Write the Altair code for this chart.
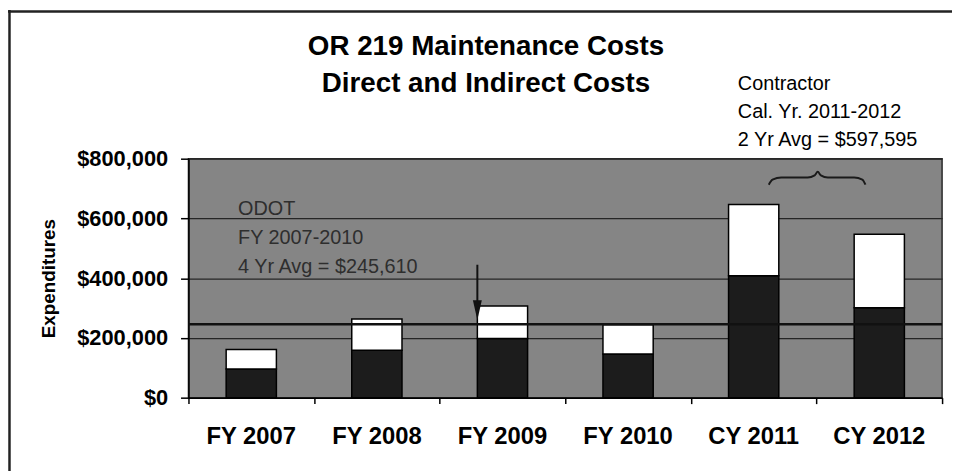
import altair as alt
import pandas as pd

# ---- data ----
categories = ["FY 2007", "FY 2008", "FY 2009", "FY 2010", "CY 2011", "CY 2012"]
direct_costs = [96000, 159000, 198000, 146000, 408000, 301000]
indirect_costs = [65000, 104000, 109000, 98000, 239000, 246000]
odot_avg = 245610
contractor_avg = 597595
y_ticks = [0, 200000, 400000, 600000, 800000]

title_text = "OR 219 Maintenance Costs\nDirect and Indirect Costs"
odot_note = "ODOT\nFY 2007-2010\n4 Yr Avg = $245,610"
contractor_note = "Contractor\nCal. Yr. 2011-2012\n2 Yr Avg = $597,595"

# brace over the contractor years (band units on a 0..6 axis, dollars)
brace_x = [4.62, 4.65, 4.72, 4.93, 4.985, 5.01, 5.035, 5.09, 5.30, 5.365, 5.39]
brace_y = [713000, 730000, 737000, 737000, 744000, 756000, 744000, 737000, 737000, 730000, 713000]
boundaries = [0, 1, 2, 3, 4, 5, 6]

FONT = "Liberation Sans"

rows = []
for c, d, i in zip(categories, direct_costs, indirect_costs):
    rows.append({"cat": c, "part": "Direct", "ord": 0, "value": d})
    rows.append({"cat": c, "part": "Indirect", "ord": 1, "value": i})
bars_df = pd.DataFrame(rows)

x_band = alt.X(
    "cat:N", sort=categories,
    scale=alt.Scale(paddingInner=0.6, paddingOuter=0.3),
    axis=alt.Axis(title=None, labelAngle=0, ticks=False, tickSize=0,
                  labelFont=FONT, labelFontSize=24, labelFontWeight="bold",
                  labelColor="black", labelPadding=27, domainColor="black",
                  domainWidth=1.5, grid=False),
)
y_scale = alt.Scale(domain=[0, 800000], nice=False)

bars = alt.Chart(bars_df).mark_bar(stroke="black", strokeWidth=1.5).encode(
    x=x_band,
    y=alt.Y("value:Q", stack="zero", scale=y_scale,
            axis=alt.Axis(values=y_ticks, format="$,.0f", title="Expenditures",
                          labelFont=FONT, labelFontSize=22, labelFontWeight="bold",
                          labelColor="black", labelPadding=13, tickSize=8,
                          tickColor="black", tickWidth=1.5, domainColor="black",
                          domainWidth=1.5, grid=True, gridColor="#262626",
                          gridWidth=1.3, titleFont=FONT, titleFontSize=19,
                          titleFontWeight="bold", titleColor="black",
                          titlePadding=18)),
    color=alt.Color("part:N", scale=alt.Scale(domain=["Direct", "Indirect"],
                                              range=["#1c1c1c", "#ffffff"]),
                    legend=None),
    order=alt.Order("ord:Q"),
)

avg_line = alt.Chart(pd.DataFrame({"avg": [odot_avg]})).mark_rule(
    color="#111111", strokeWidth=2.5).encode(y=alt.Y("avg:Q", scale=y_scale))

arrow_df = pd.DataFrame({"cat": ["FY 2009"], "top": [445000], "bottom": [300000],
                         "head": [293000]})
arrow_shaft = alt.Chart(arrow_df).mark_rule(color="#111111", strokeWidth=2).encode(
    x=alt.X("cat:N", sort=categories, bandPosition=0),
    y=alt.Y("top:Q", scale=y_scale), y2="bottom:Q")
arrow_head = alt.Chart(arrow_df).mark_point(
    shape="M-0.45,-1L0.45,-1L0,1Z", filled=True, size=400, opacity=1,
    color="#111111").encode(
    x=alt.X("cat:N", sort=categories, bandPosition=0),
    y=alt.Y("head:Q", scale=y_scale))

band_layer = alt.layer(bars, avg_line, arrow_shaft, arrow_head)

brace = alt.Chart(pd.DataFrame({"bx": brace_x, "by": brace_y})).mark_line(
    color="#1a1a1a", strokeWidth=2, interpolate="monotone").encode(
    x=alt.X("bx:Q", scale=alt.Scale(domain=[0, 6], nice=False, zero=False),
            axis=alt.Axis(orient="bottom", values=boundaries, labels=False,
                          domain=False, ticks=True, tickSize=6, tickColor="black",
                          tickWidth=1.5, grid=False, title=None)),
    y=alt.Y("by:Q", scale=y_scale),
)

notes_df = pd.DataFrame({"odot": [odot_note], "contr": [contractor_note],
                         "title": [title_text]})
title_mark = alt.Chart(notes_df).mark_text(
    align="center", baseline="alphabetic", lineBreak="\n", lineHeight=38,
    font=FONT, fontSize=28, fontWeight="bold", color="black").encode(
    x=alt.value(300), y=alt.value(-105), text="title:N")
odot_text = alt.Chart(notes_df).mark_text(
    align="left", baseline="alphabetic", lineBreak="\n", lineHeight=29,
    font=FONT, fontSize=20, color="#2e2e2e").encode(
    x=alt.value(50), y=alt.value(57), text="odot:N")
contr_text = alt.Chart(notes_df).mark_text(
    align="left", baseline="alphabetic", lineBreak="\n", lineHeight=28,
    font=FONT, fontSize=20, color="black").encode(
    x=alt.value(554), y=alt.value(-69), text="contr:N")

frame_top = alt.Chart(notes_df).mark_rule(color="#222222", strokeWidth=2.5).encode(
    x=alt.value(-182), x2=alt.value(770), y=alt.value(-148.5))
frame_left = alt.Chart(notes_df).mark_rule(color="#222222", strokeWidth=2.5).encode(
    x=alt.value(-180.5), y=alt.value(-150), y2=alt.value(315))

chart = alt.layer(band_layer, brace, title_mark, odot_text, contr_text,
                  frame_top, frame_left).resolve_scale(
    x="independent"
).properties(
    width=760, height=241,
    autosize=alt.AutoSizeParams(type="none"),
    padding={"left": 182, "top": 150, "right": 10, "bottom": 74},
    background="white",
).configure_view(fill="#858585", stroke="#2a2a2a", strokeWidth=1.5)

chart.save("out.html", embed_options={"renderer": "svg", "actions": False})
